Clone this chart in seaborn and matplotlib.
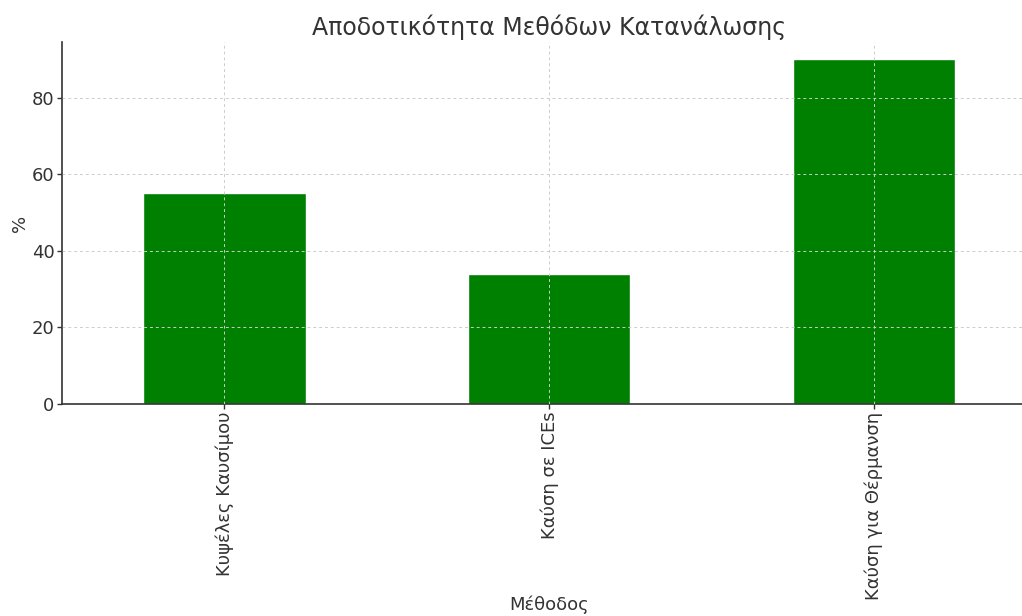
import matplotlib
matplotlib.use("Agg")
import matplotlib.pyplot as plt
import seaborn as sns
import pandas as pd

methods = ["Κυψέλες Καυσίμου", "Καύση σε ICEs", "Καύση για Θέρμανση"]
efficiency = [55, 34, 90]

sns.set_style("white")
plt.rcParams["font.family"] = ["DejaVu Sans"]
plt.rcParams["text.color"] = "#333333"
plt.rcParams["axes.labelcolor"] = "#333333"
plt.rcParams["xtick.color"] = "#333333"
plt.rcParams["ytick.color"] = "#333333"

df = pd.DataFrame({"Μέθοδος": methods, "%": efficiency})

fig = plt.figure(figsize=(10.22, 6.16), dpi=100)
ax = fig.add_axes([0.0607, 0.3442, 0.9535, 0.5876])

sns.barplot(data=df, x="Μέθοδος", y="%", color="green", saturation=1,
            width=0.5, ax=ax)

ax.set_xlim(-0.5, 2.5)
ax.set_ylim(0, 94.5)
ax.set_yticks([0, 20, 40, 60, 80])
ax.tick_params(axis="both", labelsize=13, length=3.5, width=1, direction="out",
               bottom=True, left=True, pad=2)
ax.set_xticks(range(len(methods)))
ax.set_xticklabels(methods, rotation=90)

ax.set_axisbelow(False)
ax.grid(True, linestyle=(0, (3, 3)), color="#cccccc", linewidth=0.7)

for side in ["top", "right"]:
    ax.spines[side].set_visible(False)
for side in ["left", "bottom"]:
    ax.spines[side].set_color("#333333")
    ax.spines[side].set_linewidth(1.2)

ax.set_title("Αποδοτικότητα Μεθόδων Κατανάλωσης", fontsize=17, color="#333333", pad=5)
ax.set_xlabel("Μέθοδος", fontsize=13, labelpad=-3)
ax.set_ylabel("%", fontsize=13, labelpad=2)

fig.savefig("out.png", dpi=100)
